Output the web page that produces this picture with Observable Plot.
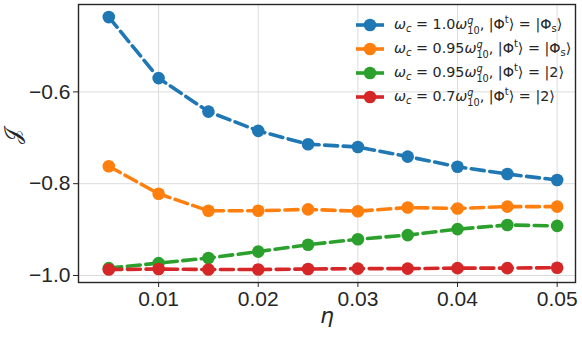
<!DOCTYPE html>
<html><head><meta charset="utf-8">
<script src="https://cdn.jsdelivr.net/npm/d3@7"></script>
<script src="https://cdn.jsdelivr.net/npm/@observablehq/plot@0.6"></script>
<style>
body{margin:0;background:#fff}
#wrap{position:relative;width:582px;height:337px}
#legend{position:absolute;left:356px;top:13px;font-family:"DejaVu Sans";font-size:14.3px;color:#262626}
.row{display:flex;align-items:center;height:24px;white-space:nowrap}
.row svg{margin-right:10px;overflow:visible}
.sb{font-size:0.7em;vertical-align:-0.3em}
.sp{font-size:0.7em;vertical-align:0.55em}
.ss{display:inline-block;vertical-align:-0.62em;line-height:1.05;font-size:0.68em}
.ss span{display:block}
</style>
</head><body>
<div id="wrap"><div id="chart"></div><div id="legend"></div></div>
<script>
const eta = [0.005, 0.01, 0.015, 0.02, 0.025, 0.03, 0.035, 0.04, 0.045, 0.05];
const jBlue   = [-0.437, -0.570, -0.643, -0.685, -0.714, -0.720, -0.741, -0.763, -0.779, -0.792];
const jOrange = [-0.762, -0.822, -0.859, -0.859, -0.856, -0.860, -0.852, -0.854, -0.850, -0.850];
const jGreen  = [-0.984, -0.973, -0.962, -0.948, -0.933, -0.921, -0.912, -0.899, -0.890, -0.892];
const jRed    = [-0.987, -0.986, -0.987, -0.987, -0.986, -0.985, -0.985, -0.984, -0.984, -0.983];
const seriesValues = [jBlue, jOrange, jGreen, jRed];
const seriesColors = ["#1f77b4", "#ff7f0e", "#2ca02c", "#d62728"];
const legendLabels = [
  '<i>ω</i><span class="sb"><i>c</i></span> = 1.0<i>ω</i><span class="ss"><span><i>q</i></span><span>10</span></span>, |Φ<span class="sp">t</span>⟩ = |Φ<span class="sb">s</span>⟩',
  '<i>ω</i><span class="sb"><i>c</i></span> = 0.95<i>ω</i><span class="ss"><span><i>q</i></span><span>10</span></span>, |Φ<span class="sp">t</span>⟩ = |Φ<span class="sb">s</span>⟩',
  '<i>ω</i><span class="sb"><i>c</i></span> = 0.95<i>ω</i><span class="ss"><span><i>q</i></span><span>10</span></span>, |Φ<span class="sp">t</span>⟩ = |2⟩',
  '<i>ω</i><span class="sb"><i>c</i></span> = 0.7<i>ω</i><span class="ss"><span><i>q</i></span><span>10</span></span>, |Φ<span class="sp">t</span>⟩ = |2⟩'
];
const xTicks = [0.01, 0.02, 0.03, 0.04, 0.05];
const yTicks = [-1.0, -0.8, -0.6];

const marks = [
  Plot.gridX(xTicks, {stroke: "#dcdcdc", strokeOpacity: 1, strokeWidth: 1}),
  Plot.gridY(yTicks, {stroke: "#dcdcdc", strokeOpacity: 1, strokeWidth: 1}),
  Plot.axisX({ticks: xTicks, tickFormat: d3.format(".2f"), tickSize: 5, tickPadding: 4, fontSize: 21, stroke: "#262626", color: "#262626", label: null}),
  Plot.axisY({ticks: yTicks, tickFormat: d3.format(".1f"), tickSize: 5, tickPadding: 3, fontSize: 21, stroke: "#262626", color: "#262626", label: null}),
  Plot.text(["η"], {frameAnchor: "bottom", dy: 40, text: d => d, fontSize: 22, fontStyle: "italic", fontFamily: "DejaVu Sans", fill: "#262626"}),
  Plot.text(["𝒥"], {frameAnchor: "left", dx: -66, rotate: -90, text: d => d, fontSize: 22, fontFamily: "DejaVu Sans", fill: "#262626"})
];
seriesValues.forEach((vals, i) => {
  const rows = eta.map((e, k) => ({eta: e, J: vals[k]}));
  marks.push(Plot.line(rows, {x: "eta", y: "J", stroke: seriesColors[i], strokeWidth: 3.6, strokeDasharray: "13,5.6"}));
  marks.push(Plot.dot(rows, {x: "eta", y: "J", fill: seriesColors[i], r: 6.3}));
});
marks.push(Plot.frame({stroke: "#262626", strokeWidth: 1.4}));

const chart = Plot.plot({
  width: 582, height: 337,
  marginLeft: 78, marginRight: 7, marginTop: 4, marginBottom: 55,
  style: {fontFamily: "'Liberation Sans', Arial, sans-serif", background: "#fff"},
  x: {domain: [0.00196, 0.05184]},
  y: {domain: [-1.0153, -0.4096]},
  marks
});
document.getElementById("chart").appendChild(chart);

const leg = document.getElementById("legend");
legendLabels.forEach((lab, i) => {
  const row = document.createElement("div");
  row.className = "row";
  row.innerHTML = `<svg width="28" height="14"><line x1="0" x2="28" y1="7" y2="7" stroke="${seriesColors[i]}" stroke-width="3.6"/><circle cx="14" cy="7" r="6.3" fill="${seriesColors[i]}"/></svg><span>${lab}</span>`;
  leg.appendChild(row);
});
</script>
</body></html>
